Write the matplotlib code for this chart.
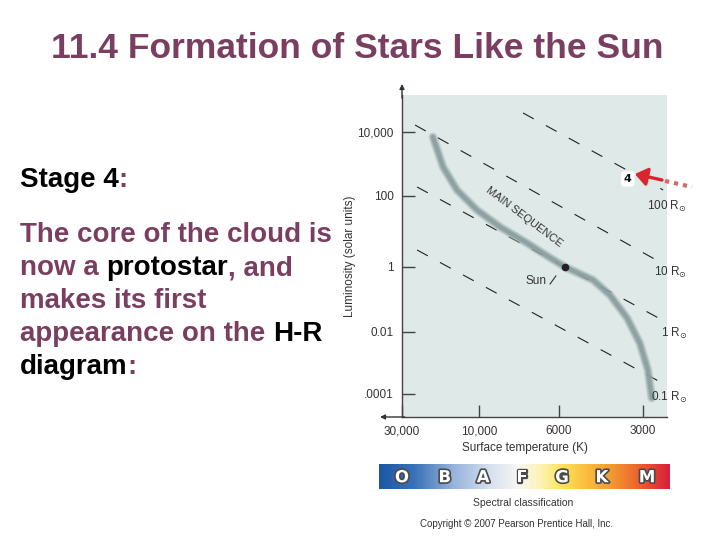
import numpy as np
import matplotlib
matplotlib.use("Agg")
import matplotlib.pyplot as plt
import matplotlib.patheffects as pe
from matplotlib.colors import LinearSegmentedColormap
from matplotlib.ticker import NullLocator
from matplotlib.transforms import blended_transform_factory

# main sequence (surface temperature K, luminosity in solar units)
ms_temp = [19300, 16700, 13700, 10300, 8740, 7360, 6470, 5710, 4530, 3940, 3420, 3080, 2880, 2790]
ms_lum = [6980, 806, 154, 40.3, 13.4, 4.74, 2.04, 1.0, 0.398, 0.137, 0.027, 0.0044, 5.9e-4, 7.4e-5]

# lines of constant radius: end points (T, L)
radius_labels = ["100 R$_{\\odot}$", "10 R$_{\\odot}$", "1 R$_{\\odot}$", "0.1 R$_{\\odot}$"]
radius_t0 = [7550, 24900, 24200, 24200]
radius_l0 = [39300, 16500, 191, 3.01]
radius_t1 = [2540, 2610, 2560, 2560]
radius_l1 = [154, 1.38, 0.0234, 2.26e-4]
radius_label_lum = [52, 0.70, 0.0093, 8.0e-5]

sun_temp, sun_lum = 5710, 1.0
stage4_temp, stage4_lum = 3400, 340

temp_ticks = [30000, 10000, 6000, 3000]
temp_ticklabels = ["30,000", "10,000", "6000", "3000"]
lum_ticks = [1e4, 1e2, 1, 1e-2, 1e-4]
lum_ticklabels = ["10,000", "100", "1", "0.01", ".0001"]

spectral_classes = ["O", "B", "A", "F", "G", "K", "M"]
spectral_temp = [30000, 16300, 9740, 7600, 5850, 4210, 2900]

purple = "#7a3e60"

# the axes of the printed diagram are hand drawn, not clean log scales -> calibrate them
# (forward is increasing in T; the x axis is then inverted by its limits)
cal_logt = np.log10([1500, 3000, 6000, 10000, 30000, 60000])
cal_tpos = np.array([-325, -241, -157, -77, 0, 48.6])
cal_logl = np.array([-6, -4, -2, 0, 2, 4, 6])
cal_lpos = np.array([-39, 23, 85, 150, 221, 285, 349])


def t_fwd(t):
    t = np.clip(np.asarray(t, dtype=float), 1, None)
    return np.interp(np.log10(t), cal_logt, cal_tpos)


def t_inv(p):
    return 10 ** np.interp(p, cal_tpos, cal_logt)


def l_fwd(v):
    v = np.clip(np.asarray(v, dtype=float), 1e-12, None)
    return np.interp(np.log10(v), cal_logl, cal_lpos)


def l_inv(p):
    return 10 ** np.interp(p, cal_lpos, cal_logl)


W, H = 720, 540
fig = plt.figure(figsize=(7.2, 5.4), dpi=100)
fig.patch.set_facecolor("white")


def fx(x):
    return x / W


def fy(y):
    return 1 - y / H


# ---- slide text ----
fig.text(fx(357), fy(58), "11.4 Formation of Stars Like the Sun", ha="center", va="baseline",
         fontsize=25.5, fontweight="bold", color=purple, family="Liberation Sans")

renderer = fig.canvas.get_renderer()
body = dict(fontsize=20, fontweight="bold", family="Liberation Sans", va="baseline")
probe1 = fig.text(0, 0, "nn", **body)
probe2 = fig.text(0, 0, "n n", **body)
space_w = probe2.get_window_extent(renderer).width - probe1.get_window_extent(renderer).width
probe1.remove()
probe2.remove()


def draw_line(y, parts):
    x = 20.0
    for txt, col in parts:
        lead = len(txt) - len(txt.lstrip(" "))
        x += lead * space_w
        t = fig.text(fx(x), fy(y), txt.strip(" "), color=col, **body)
        x += t.get_window_extent(renderer).width


draw_line(187, [("Stage 4", "black"), (":", purple)])
draw_line(242, [("The core of the cloud is", purple)])
draw_line(275, [("now a", purple), (" protostar", "black"), (", and", purple)])
draw_line(308, [("makes its first", purple)])
draw_line(341, [("appearance on the", purple), (" H-R", "black")])
draw_line(374, [("diagram", "black"), (":", purple)])

# ---- H-R diagram ----
ax = fig.add_axes([fx(402), fy(417), 265 / W, 322 / H])
ax.set_facecolor("#dfe9e7")
ax.set_xscale("function", functions=(t_fwd, t_inv))
ax.set_yscale("function", functions=(l_fwd, l_inv))
ax.set_xlim(30000, 2460)
ax.set_ylim(1.81e-5, 1.43e5)

for s in ["top", "right"]:
    ax.spines[s].set_visible(False)
for s in ["left", "bottom"]:
    ax.spines[s].set_color("#444444")
    ax.spines[s].set_linewidth(1)

ax.set_xticks(temp_ticks)
ax.set_xticklabels(temp_ticklabels)
ax.set_yticks(lum_ticks)
ax.set_yticklabels(lum_ticklabels)
ax.xaxis.set_minor_locator(NullLocator())
ax.yaxis.set_minor_locator(NullLocator())
ax.tick_params(direction="in", length=9, width=1, color="#444444", labelcolor="#333333",
               labelsize=8.5, pad=6)
for lab in ax.get_xticklabels() + ax.get_yticklabels():
    lab.set_family("Liberation Sans")

ax.set_xlabel("Surface temperature (K)", fontsize=8.5, color="#333333", family="Liberation Sans")
ax.xaxis.set_label_coords((525 - 402) / 265, -(448 - 417) / 322)
ax.xaxis.label.set_va("center")
ax.set_ylabel("Luminosity (solar units)", fontsize=8.5, color="#333333", family="Liberation Sans")
ax.yaxis.set_label_coords(-(402 - 350) / 265, (417 - 256) / 322)
ax.yaxis.label.set_va("center")

# axis arrows
arrow_kw = dict(arrowstyle="-|>", color="#333333", lw=1, mutation_scale=7, shrinkA=0, shrinkB=0)
ax.annotate("", xy=(0, (417 - 84) / 322), xytext=(0, 0.99), xycoords="axes fraction",
            arrowprops=arrow_kw, annotation_clip=False)
ax.annotate("", xy=(-(402 - 380) / 265, 0), xytext=(0.01, 0), xycoords="axes fraction",
            arrowprops=arrow_kw, annotation_clip=False)

# constant radius lines
for i in range(len(radius_labels)):
    ax.plot([radius_t0[i], radius_t1[i]], [radius_l0[i], radius_l1[i]], color="#222222",
            lw=0.8, dashes=(11, 12.5), clip_on=False)
    ax.text(2085, radius_label_lum[i], radius_labels[i], ha="right", va="center", fontsize=8.5,
            color="#333333", family="Liberation Sans")

# main sequence, soft grey band
band = dict(solid_capstyle="round", solid_joinstyle="round")
ax.plot(ms_temp, ms_lum, color="#a7b7b7", lw=6.5, alpha=0.45, **band)
ax.plot(ms_temp, ms_lum, color="#95a7a8", lw=4.8, alpha=0.55, **band)
ax.plot(ms_temp, ms_lum, color="#879a9b", lw=3.0, alpha=0.75, **band)

ax.text(7500, 25.6, "MAIN SEQUENCE", rotation=-37, ha="center", va="center", fontsize=8,
        color="#333333", family="Liberation Sans", rotation_mode="anchor")

# the Sun
ax.plot(sun_temp, sun_lum, "o", color="#222222", ms=4.5, zorder=5)
ax.plot([6350, 6120], [0.30, 0.53], color="#333333", lw=0.8)
ax.text(6950, 0.37, "Sun", ha="center", va="center", fontsize=8.5, color="#333333",
        family="Liberation Sans")

# stage 4 marker and arrow
ax.text(stage4_temp, stage4_lum, "4", ha="center", va="center", fontsize=8, fontweight="bold",
        color="#111111", zorder=6,
        bbox=dict(boxstyle="round,pad=0.25", fc="white", ec="none"))
ax.plot([2500, 2000], [294, 191], color="#d06a6a", lw=3, ls=(0, (1, 1.2)), clip_on=False)
ax.annotate("", xy=(3205, 487), xytext=(2565, 316),
            arrowprops=dict(arrowstyle="-|>,head_length=0.6,head_width=0.45", color="#d9262e",
                            lw=2.4, mutation_scale=12, shrinkA=0, shrinkB=0),
            annotation_clip=False, zorder=6)

# ---- spectral classification bar ----
bar_ax = fig.add_axes([fx(379), fy(489), 291 / W, 25 / H])
cmap = LinearSegmentedColormap.from_list("spec", [
    (0.0, "#1b58a5"), (0.12, "#3a72b8"), (0.25, "#93b1da"), (0.38, "#d6e0ef"),
    (0.48, "#f7f7f3"), (0.56, "#fdf3b0"), (0.63, "#fde35a"), (0.72, "#f9bb3c"),
    (0.8, "#f39a31"), (0.9, "#ec5f2c"), (1.0, "#d71f3a")])
bar_ax.imshow(np.linspace(0, 1, 400)[None, :], cmap=cmap, aspect="auto", extent=(0, 1, 0, 1))
bar_ax.set_axis_off()
letter_tf = blended_transform_factory(ax.transData, bar_ax.transAxes)
for c, t in zip(spectral_classes, spectral_temp):
    fig.text(t, 0.47, c, transform=letter_tf, ha="center", va="center", fontsize=12,
             fontweight="bold", color="white", family="DejaVu Sans",
             path_effects=[pe.withStroke(linewidth=2.4, foreground="#4a4a4a")])

fig.text(fx(523), fy(503), "Spectral classification", ha="center", va="center", fontsize=7.5,
         color="#333333", family="Liberation Sans")
fig.text(fx(517), fy(524), "Copyright \u00a9 2007 Pearson Prentice Hall, Inc.", ha="center",
         va="center", fontsize=7, color="#333333", family="Liberation Sans")

fig.savefig("out.png", dpi=100, facecolor="white")
